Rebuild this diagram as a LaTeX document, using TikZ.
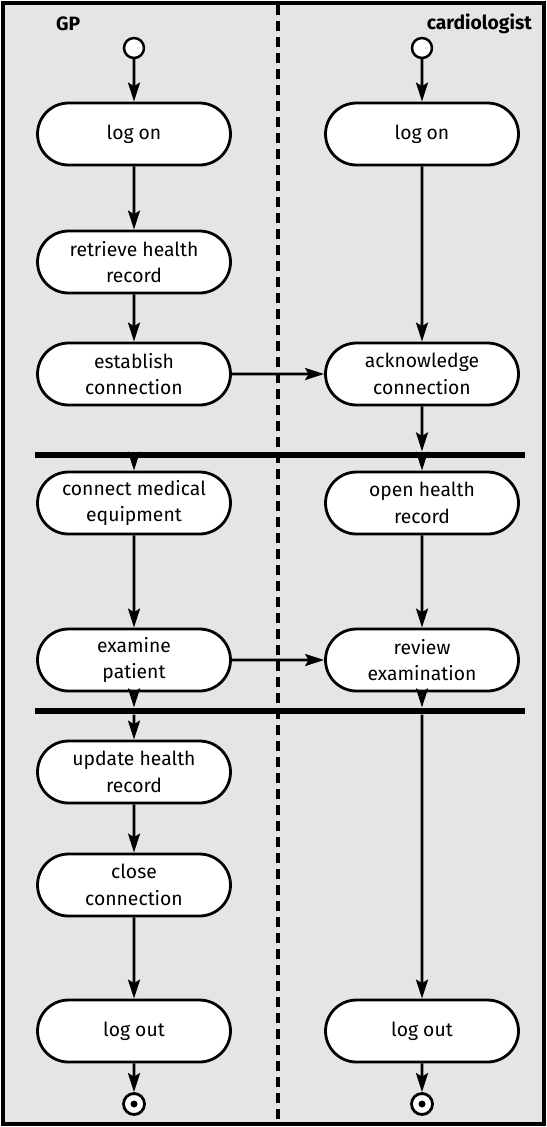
\documentclass[tikz,border=0pt]{standalone}
\usepackage{fontspec}
\setmainfont{Fira Sans}
\usetikzlibrary{shapes.misc,arrows.meta}

\begin{document}
\begin{tikzpicture}[x=0.02cm,y=-0.02cm,
  act/.style={draw, line width=1.6pt, fill=white, rounded rectangle,
    minimum width=3.86cm, minimum height=1.24cm, align=center,
    inner sep=0pt, font=\fontsize{11}{15}\selectfont},
  arr/.style={line width=1.5pt, -{Stealth[length=0.38cm,width=0.24cm,inset=0.07cm]}},
  bar/.style={fill=black, inner sep=0pt, minimum width=9.8cm, minimum height=0.13cm},
  initial/.style={circle, draw, line width=1.4pt, fill=white, inner sep=0pt, minimum size=0.4cm},
  final/.style={circle, draw, line width=1.6pt, fill=white, inner sep=0pt, minimum size=0.42cm},
  lane/.style={font=\bfseries\fontsize{11}{13}\selectfont}]

\useasboundingbox (0,0) rectangle (547,1127);
\draw [line width=2.2pt, fill=black!10] (3,3) rectangle (544,1124);
\draw [line width=2pt, dash pattern=on 0.2cm off 0.12cm] (278,5) -- (278,1122);

\node [lane, anchor=west] (gp) at (50,24) {GP};
\node [lane, anchor=east] (card) at (538,24) {cardiologist};

% GP lane
\node [initial] (startL) at (134,48) {};
\node [act] (logonL) at (134,134) {log on};
\node [act] (retrieve) at (134,262) {retrieve health\\record};
\node [act] (establish) at (134,374) {establish\\connection};
\node [act] (connect) at (134,503) {connect medical\\equipment};
\node [act] (examine) at (134,660) {examine\\patient};
\node [act] (update) at (134,772) {update health\\record};
\node [act] (close) at (134,885) {close\\connection};
\node [act] (logoutL) at (134,1031) {log out};
\node [final] (endL) at (134,1104) {};
\fill (endL) circle (0.07cm);

% cardiologist lane
\node [initial] (startR) at (422,48) {};
\node [act] (logonR) at (422,134) {log on};
\node [act] (ack) at (422,374) {acknowledge\\connection};
\node [act] (open) at (422,503) {open health\\record};
\node [act] (review) at (422,660) {review\\examination};
\node [act] (logoutR) at (422,1031) {log out};
\node [final] (endR) at (422,1104) {};
\fill (endR) circle (0.07cm);

% sync bars
\node [bar] (bar1) at (280,455) {};
\node [bar] (bar2) at (280,711) {};

\draw [arr] (startL) -- (logonL);
\draw [arr] (logonL) -- (retrieve);
\draw [arr] (retrieve) -- (establish);
\draw [arr] (establish) -- (ack);
\draw [arr] (startR) -- (logonR);
\draw [arr] (logonR) -- (ack);
\draw [arr] (ack) -- (ack |- bar1.north);
\draw [arr] (bar1.south -| connect) -- (connect);
\draw [arr] (bar1.south -| open) -- (open);
\draw [arr] (connect) -- (examine);
\draw [arr] (open) -- (review);
\draw [arr] (examine) -- (review);
\draw [arr] (examine) -- (examine |- bar2.north);
\draw [arr] (review) -- (review |- bar2.north);
\draw [arr] (bar2.south -| update) -- (update);
\draw [arr] (bar2.south -| logoutR) -- (logoutR);
\draw [arr] (update) -- (close);
\draw [arr] (close) -- (logoutL);
\draw [arr] (logoutL) -- (endL);
\draw [arr] (logoutR) -- (endR);
\end{tikzpicture}
\end{document}
